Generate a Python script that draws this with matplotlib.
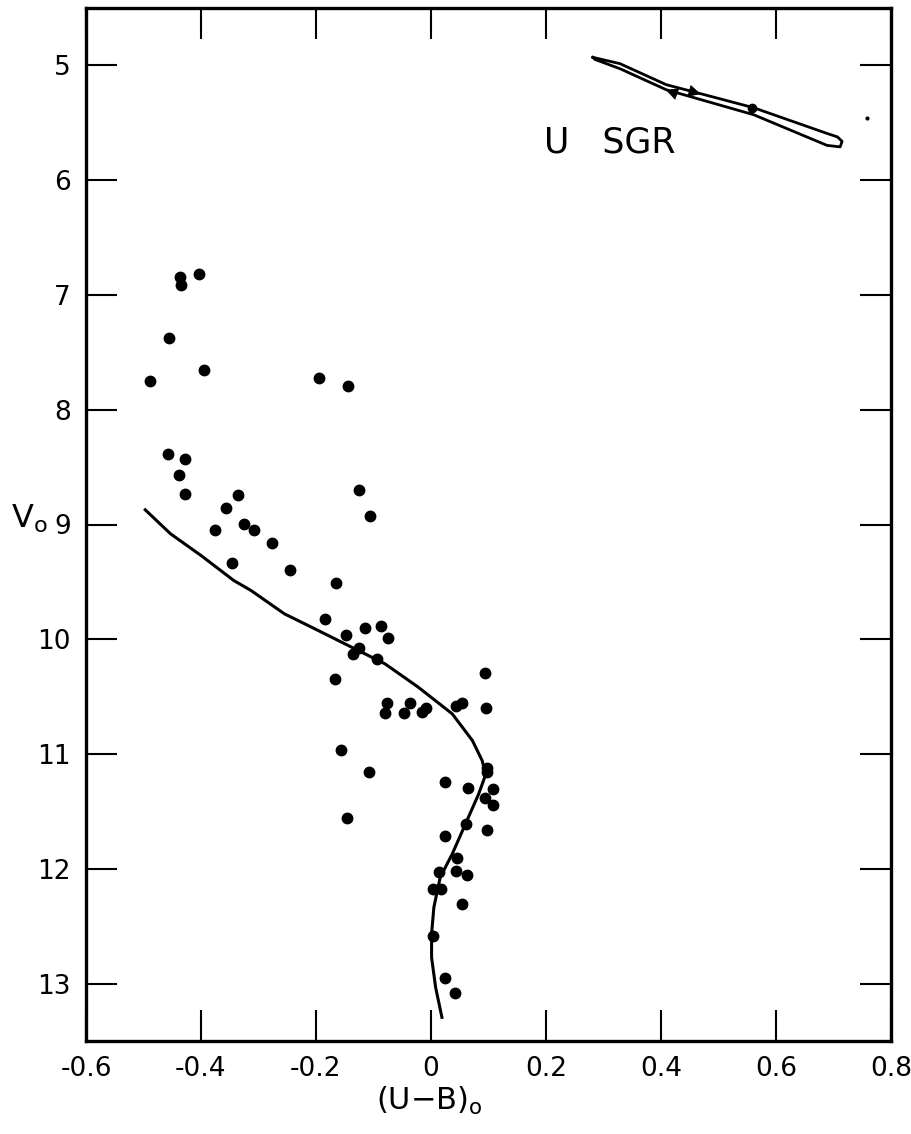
import numpy as np
import matplotlib
matplotlib.use('Agg')
import matplotlib.pyplot as plt

plt.rcParams['axes.unicode_minus'] = False
plt.rcParams['font.family'] = 'DejaVu Sans'

# Cluster stars: (U-B)o colour and Vo magnitude
star_ub = [-0.437, -0.434, -0.404, -0.456, -0.395, -0.488, -0.194, -0.144,
           -0.458, -0.428, -0.438, -0.427, -0.336, -0.357, -0.376, -0.326,
           -0.307, -0.276, -0.346, -0.245, -0.126, -0.106, -0.165, -0.185,
           -0.147, -0.115, -0.087, -0.074, -0.126, -0.135, -0.094, -0.167,
           0.094, -0.077, -0.080, -0.037, -0.047, -0.009, -0.016, 0.044,
           0.054, 0.095, -0.157, -0.107, 0.097, 0.098, 0.025, 0.064,
           0.108, 0.094, 0.107, -0.146, 0.061, 0.097, 0.025, 0.046,
           0.014, 0.044, 0.063, 0.003, 0.018, 0.054, 0.003, 0.024, 0.041]
star_v = [6.845, 6.917, 6.815, 7.379, 7.655, 7.754, 7.722, 7.789,
          8.387, 8.428, 8.567, 8.730, 8.747, 8.858, 9.044, 8.997,
          9.046, 9.163, 9.337, 9.395, 8.698, 8.930, 9.514, 9.822,
          9.959, 9.906, 9.880, 9.985, 10.078, 10.127, 10.176, 10.345,
          10.296, 10.554, 10.641, 10.554, 10.641, 10.597, 10.636, 10.583,
          10.554, 10.600, 10.969, 11.153, 11.118, 11.157, 11.240, 11.292,
          11.302, 11.381, 11.442, 11.559, 11.608, 11.661, 11.710, 11.905,
          12.030, 12.015, 12.053, 12.175, 12.175, 12.305, 12.582, 12.954, 13.081]

# Main-sequence curve
zams_ub = [-0.497, -0.453, -0.400, -0.343, -0.313, -0.255, -0.196, -0.138,
           -0.080, -0.022, 0.037, 0.072, 0.089, 0.095, 0.083, 0.060,
           0.037, 0.016, 0.005, 0.001, 0.001, 0.008, 0.019]
zams_v = [8.872, 9.081, 9.270, 9.488, 9.575, 9.778, 9.924, 10.069,
          10.214, 10.418, 10.650, 10.882, 11.057, 11.179, 11.347, 11.608,
          11.870, 12.074, 12.335, 12.567, 12.771, 13.032, 13.294]

# U Sgr loop (upper edge out, lower edge back)
sgr_ub = [0.2815, 0.3287, 0.4091, 0.4738, 0.5612, 0.6888, 0.7068, 0.7150,
          0.7115, 0.6888, 0.5612, 0.4091, 0.3287, 0.2850, 0.2815]
sgr_v = [4.930, 4.985, 5.168, 5.253, 5.369, 5.593, 5.623, 5.662,
         5.710, 5.697, 5.430, 5.212, 5.029, 4.948, 4.930]
sgr_dot_ub, sgr_dot_v = 0.558, 5.375
stray_ub, stray_v = 0.759, 5.46

xticks = [-0.6, -0.4, -0.2, 0, 0.2, 0.4, 0.6, 0.8]
xticklabels = ['-0.6', '-0.4', '-0.2', '0', '0.2', '0.4', '0.6', '0.8']
yticks = [5, 6, 7, 8, 9, 10, 11, 12, 13]

fig = plt.figure(figsize=(9.12, 11.34), dpi=100)
ax = fig.add_axes([86 / 912, 1 - 1041 / 1134, 805 / 912, 1033 / 1134])

ax.plot(zams_ub, zams_v, 'k-', lw=2.2, solid_joinstyle='round')
ax.plot(star_ub, star_v, 'ko', ms=7.5, mec='k')

ax.plot(sgr_ub, sgr_v, 'k-', lw=2.0, solid_joinstyle='round')
ax.plot(sgr_dot_ub, sgr_dot_v, 'ko', ms=6)
ax.plot(stray_ub, stray_v, 'ko', ms=2)
# direction arrows on the loop
ax.annotate('', xy=(0.4738, 5.257), xytext=(0.4528, 5.227),
            arrowprops=dict(arrowstyle='-|>', color='k', lw=0, mutation_scale=22))
ax.annotate('', xy=(0.4038, 5.205), xytext=(0.4248, 5.244),
            arrowprops=dict(arrowstyle='-|>', color='k', lw=0, mutation_scale=22))
ax.text(0.196, 5.76, 'U   SGR', fontsize=25, ha='left', va='baseline')

ax.set_xlim(-0.6, 0.8)
ax.set_ylim(13.5, 4.5)
ax.set_xticks(xticks)
ax.set_xticklabels(xticklabels)
ax.set_yticks(yticks)
ax.tick_params(direction='in', length=22, width=1.5, labelsize=19,
               top=True, right=True, pad=11)

for s in ax.spines.values():
    s.set_linewidth(2.4)

ax.set_xlabel(r'(U$-$B)$_\mathregular{o}$', fontsize=22, va='center')
ax.xaxis.set_label_coords(0.427, -0.058)
ax.set_ylabel(r'V$_\mathregular{o}$', fontsize=23, rotation=0, ha='center', va='center')
ax.yaxis.set_label_coords(-0.07, 0.506)

fig.savefig('out.png', dpi=100)
